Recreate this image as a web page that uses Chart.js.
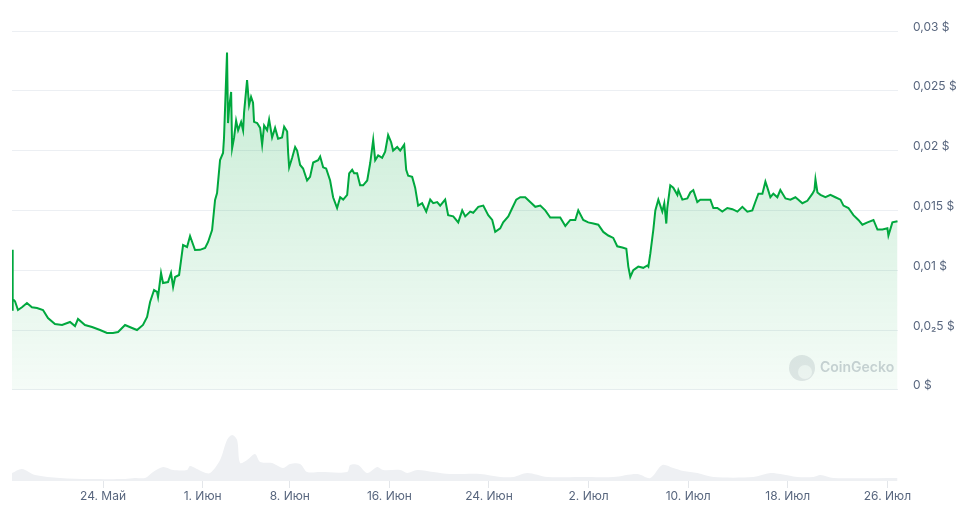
<!DOCTYPE html>
<html>
<head>
<meta charset="utf-8">
<script src="https://cdn.jsdelivr.net/npm/chart.js@4.4.1/dist/chart.umd.min.js"></script>
<style>
  html, body { margin: 0; padding: 0; background: #ffffff; }
  canvas { display: block; }
</style>
</head>
<body>
<canvas id="c" width="963" height="509" style="width:963px;height:509px"></canvas>
<script>
// Time is in days counted from 1 May (1 May = 0, 24 May = 23, 1 Jun = 31 ...)
const priceDays = [
  15.69, 15.72, 15.77, 15.93, 16.17, 16.49, 16.89, 17.29, 17.70, 18.18, 18.58, 19.14, 19.71, 20.35, 20.75, 20.99,
  21.55, 22.12, 22.76, 23.32, 23.80, 24.21, 24.77, 25.33, 25.73, 26.21, 26.54, 26.78, 27.10, 27.34, 27.42, 27.66,
  27.82, 28.22, 28.46, 28.63, 28.79, 29.11, 29.27, 29.43, 29.75, 29.99, 30.39, 30.79, 31.20, 31.44, 31.76, 32.00,
  32.16, 32.40, 32.64, 32.72, 32.96, 33.04, 33.13, 33.29, 33.37, 33.53, 33.69, 33.85, 34.09, 34.25, 34.33, 34.57,
  34.73, 34.89, 35.05, 35.13, 35.38, 35.62, 35.78, 35.94, 36.18, 36.34, 36.58, 36.82, 37.06, 37.38, 37.55, 37.79,
  37.87, 37.95, 38.19, 38.43, 38.59, 38.83, 39.07, 39.39, 39.63, 39.88, 40.28, 40.44, 40.68, 40.92, 41.24, 41.48,
  41.80, 42.05, 42.29, 42.61, 42.77, 43.01, 43.17, 43.41, 43.65, 43.89, 44.22, 44.46, 44.70, 44.86, 45.10, 45.42,
  45.66, 45.90, 46.14, 46.30, 46.63, 46.87, 47.19, 47.35, 47.51, 47.83, 48.07, 48.31, 48.63, 48.96, 49.28, 49.52,
  49.84, 50.08, 50.48, 50.72, 51.13, 51.53, 51.85, 52.09, 52.49, 52.73, 53.14, 53.54, 53.94, 54.26, 54.50, 54.90,
  55.14, 55.55, 55.87, 56.19, 56.51, 56.91, 57.31, 57.72, 58.12, 58.52, 58.92, 59.32, 59.72, 60.13, 60.53, 60.93,
  61.17, 61.57, 61.97, 62.38, 62.78, 63.18, 63.58, 63.98, 64.30, 64.71, 65.03, 65.19, 65.35, 65.59, 65.99, 66.39,
  66.72, 66.80, 66.96, 67.20, 67.36, 67.60, 67.92, 68.08, 68.24, 68.32, 68.56, 68.80, 69.13, 69.21, 69.53, 69.93,
  70.17, 70.41, 70.73, 70.97, 71.38, 71.78, 72.02, 72.34, 72.74, 73.14, 73.55, 73.95, 74.35, 74.75, 75.15, 75.39,
  75.64, 75.96, 76.20, 76.36, 76.60, 76.84, 77.16, 77.40, 77.81, 78.21, 78.61, 78.85, 79.17, 79.57, 79.98, 80.14,
  80.22, 80.38, 80.62, 81.02, 81.42, 81.82, 82.23, 82.47, 82.87, 83.27, 83.67, 83.99, 84.40, 84.88, 85.20, 85.60,
  86.00, 86.08, 86.40, 86.81
];
const priceValues = [
  0.0117, 0.0066, 0.0076, 0.0074, 0.00667, 0.0069, 0.00726, 0.0069, 0.00684, 0.00667, 0.0060, 0.0055, 0.00542, 0.00567, 0.00533, 0.00592,
  0.00542, 0.00525, 0.0050, 0.00475, 0.00475, 0.00483, 0.00542, 0.00517, 0.0050, 0.00542, 0.0061, 0.00734, 0.00834, 0.00818, 0.00776, 0.00977,
  0.00893, 0.00901, 0.00977, 0.0086, 0.00943, 0.0096, 0.01085, 0.0121, 0.01194, 0.01286, 0.01169, 0.0117, 0.01186, 0.01236, 0.01336, 0.01587,
  0.01645, 0.01921, 0.0198, 0.0211, 0.0282, 0.0223, 0.0236, 0.0249, 0.0202, 0.0211, 0.0225, 0.0217, 0.0224, 0.0217, 0.0232, 0.0259,
  0.0238, 0.0245, 0.0240, 0.0224, 0.0223, 0.0219, 0.0205, 0.0221, 0.0217, 0.0226, 0.0211, 0.0219, 0.0210, 0.0211, 0.0220, 0.0216,
  0.0198, 0.0186, 0.0194, 0.0203, 0.0200, 0.0188, 0.0185, 0.0175, 0.0178, 0.0190, 0.0192, 0.0195, 0.0186, 0.0185, 0.0175, 0.0161,
  0.0152, 0.0161, 0.0159, 0.0163, 0.0181, 0.0184, 0.0181, 0.0181, 0.0171, 0.0171, 0.0175, 0.01896, 0.0209, 0.0192, 0.0196, 0.0194,
  0.0199, 0.0213, 0.0207, 0.0200, 0.0203, 0.0200, 0.0205, 0.0184, 0.0179, 0.0178, 0.0169, 0.0154, 0.0156, 0.0149, 0.0159, 0.0156,
  0.0157, 0.0154, 0.0159, 0.0146, 0.0145, 0.0140, 0.0150, 0.0145, 0.0149, 0.0148, 0.0153, 0.0154, 0.0146, 0.0142, 0.0132, 0.0135,
  0.0140, 0.0145, 0.0152, 0.0159, 0.0161, 0.0161, 0.0157, 0.0153, 0.0154, 0.0150, 0.0144, 0.0144, 0.0144, 0.0137, 0.0142, 0.0142,
  0.0150, 0.0142, 0.0140, 0.0139, 0.0138, 0.0132, 0.0129, 0.0127, 0.0120, 0.0119, 0.0118, 0.0103, 0.00943, 0.0100, 0.0103, 0.0102,
  0.0104, 0.0103, 0.0114, 0.0134, 0.0150, 0.0159, 0.0149, 0.0156, 0.0139, 0.0152, 0.0171, 0.0169, 0.0163, 0.0167, 0.0159, 0.0160,
  0.0165, 0.0167, 0.0157, 0.0159, 0.0159, 0.0159, 0.0152, 0.0152, 0.0149, 0.0152, 0.0151, 0.0149, 0.0153, 0.0149, 0.0150, 0.0157,
  0.0164, 0.0164, 0.0174, 0.0169, 0.0161, 0.0164, 0.0161, 0.0167, 0.0160, 0.0159, 0.0161, 0.0159, 0.0156, 0.0158, 0.0164, 0.0167,
  0.0176, 0.0165, 0.0163, 0.0161, 0.0163, 0.0161, 0.0159, 0.0154, 0.0152, 0.0146, 0.0142, 0.0138, 0.0140, 0.0142, 0.0134, 0.0134,
  0.0135, 0.0129, 0.0140, 0.0141
];

// Relative trading volume (arbitrary units)
const volumeDays = [
  15.69, 16.49, 17.54, 19.54, 21.96, 24.77, 25.57, 26.38, 27.02, 27.82, 28.63, 29.75, 29.99, 31.04, 31.60, 32.40,
  32.96, 33.37, 33.77, 34.01, 34.57, 35.21, 35.62, 36.58, 37.46, 38.03, 38.83, 39.39, 40.44, 42.61, 42.85, 43.49,
  44.22, 45.02, 45.50, 46.87, 47.43, 48.23, 49.52, 50.88, 53.30, 54.90, 55.95, 57.08, 58.68, 61.33, 63.98, 65.91,
  66.96, 67.92, 68.80, 69.61, 70.73, 72.02, 75.23, 76.60, 77.40, 78.77, 80.06, 80.62, 81.66, 86.81
];
const volumeValues = [
  8, 12, 6, 3, 2, 2, 3, 3, 9, 14, 11, 11, 15, 9, 8, 21,
  41, 46, 41, 18, 21, 27, 19, 18, 13, 17, 17, 9, 9, 9, 16, 16,
  8, 14, 11, 11, 8, 11, 9, 7, 7, 4, 4, 8, 4, 4, 4, 7,
  3, 16, 13, 10, 8, 4, 4, 8, 7, 4, 4, 6, 3, 3
];

const xTickDays   = [23, 31, 38, 46, 54, 62, 70, 78, 86];
const xTickLabels = ['24. Май', '1. Июн', '8. Июн', '16. Июн', '24. Июн', '2. Июл', '10. Июл', '18. Июл', '26. Июл'];

const yTickValues = [0, 0.005, 0.01, 0.015, 0.02, 0.025, 0.03];
const yTickLabels = ['0 $', '0,0\u20825 $', '0,01 $', '0,015 $', '0,02 $', '0,025 $', '0,03 $'];

const textColor = '#58667e';
const gridColor = '#eceff3';
const lineColor = '#00a83e';

const watermark = {
  id: 'watermark',
  beforeDatasetsDraw(chart) {
    const ctx = chart.ctx;
    ctx.save();
    ctx.fillStyle = '#e6e8eb';
    ctx.beginPath();
    ctx.arc(802, 368, 13, 0, Math.PI * 2);
    ctx.fill();
    ctx.fillStyle = '#f6f7f8';
    ctx.beginPath();
    ctx.arc(805, 372, 7, 0, Math.PI * 2);
    ctx.fill();
    ctx.fillStyle = '#cfd3d9';
    ctx.font = '600 14px Inter, "Noto Sans", sans-serif';
    ctx.textBaseline = 'middle';
    ctx.fillText('CoinGecko', 820, 368);
    ctx.restore();
  }
};

const priceData = priceDays.map((d, i) => ({ x: d, y: priceValues[i] }));
const volumeData = volumeDays.map((d, i) => ({ x: d, y: volumeValues[i] }));

new Chart(document.getElementById('c'), {
  type: 'line',
  data: {
    datasets: [
      {
        data: priceData,
        yAxisID: 'y',
        borderColor: lineColor,
        borderWidth: 2,
        pointRadius: 0,
        tension: 0,
        fill: { value: 0 },
        backgroundColor(context) {
          const chart = context.chart;
          const area = chart.chartArea;
          if (!area) return 'rgba(0,168,62,0.1)';
          const y0 = chart.scales.y.getPixelForValue(0);
          const g = chart.ctx.createLinearGradient(0, area.top, 0, y0);
          g.addColorStop(0, 'rgba(0,168,62,0.24)');
          g.addColorStop(1, 'rgba(0,168,62,0.04)');
          return g;
        }
      },
      {
        data: volumeData,
        yAxisID: 'vol',
        borderWidth: 0,
        borderColor: 'rgba(0,0,0,0)',
        pointRadius: 0,
        tension: 0.3,
        fill: 'origin',
        backgroundColor: '#eef0f3'
      }
    ]
  },
  options: {
    responsive: false,
    animation: false,
    devicePixelRatio: 1,
    layout: { padding: { left: 12, top: 31, right: 0, bottom: 0 } },
    plugins: { legend: { display: false }, tooltip: { enabled: false } },
    scales: {
      x: {
        type: 'linear',
        min: 15.69,
        max: 86.85,
        afterBuildTicks(scale) { scale.ticks = xTickDays.map(v => ({ value: v })); },
        afterFit(scale) { scale.height = 28; },
        border: { display: false },
        grid: { drawOnChartArea: false, drawTicks: true, tickLength: 7, color: '#e3e6ea' },
        ticks: {
          padding: 1,
          maxRotation: 0,
          autoSkip: false,
          color: textColor,
          font: { family: 'Inter, "Noto Sans", sans-serif', size: 12 },
          callback(value) {
            const i = xTickDays.indexOf(value);
            return i >= 0 ? xTickLabels[i] : '';
          }
        }
      },
      y: {
        position: 'right',
        min: -0.007625,
        max: 0.03,
        afterBuildTicks(scale) { scale.ticks = yTickValues.map(v => ({ value: v })); },
        afterFit(scale) { scale.width = 65; },
        border: { display: false },
        grid: { color: gridColor, drawTicks: false, lineWidth: 1 },
        ticks: {
          padding: 15,
          labelOffset: -4,
          color: textColor,
          font: { family: 'Inter, "Noto Sans", sans-serif', size: 12 },
          callback(value) {
            const i = yTickValues.findIndex(v => Math.abs(v - value) < 1e-9);
            return i >= 0 ? yTickLabels[i] : '';
          }
        }
      },
      vol: {
        display: false,
        min: 0,
        max: 450
      }
    }
  },
  plugins: [watermark]
});
</script>
</body>
</html>
